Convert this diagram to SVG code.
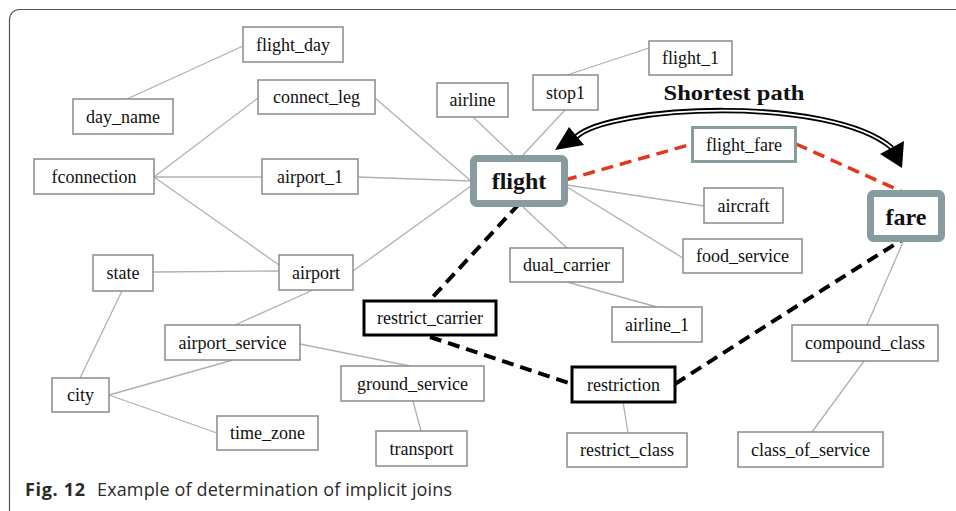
<svg xmlns="http://www.w3.org/2000/svg" width="956" height="511" viewBox="0 0 956 511">
<defs>
<style>
.n rect{fill:#fff;stroke:#8a8a8a;stroke-width:1.5}
.n text{font-family:"Liberation Serif","Times New Roman",serif;font-size:18px;fill:#111;text-anchor:middle}
.key rect{stroke:#879c9e;stroke-width:7}
.key text{font-weight:bold;font-size:24px}
.mid rect{stroke:#879c9e;stroke-width:3}
.blk rect{stroke:#000;stroke-width:3}
.e line{stroke:#b0b0b0;stroke-width:1.3}
.red{stroke:#e3361c;stroke-width:3.5;stroke-dasharray:12 7;fill:none}
.bd{stroke:#000;stroke-width:4;stroke-dasharray:12 7;fill:none}
</style>
</defs>
<rect x="0" y="0" width="956" height="511" fill="#fff"/>
<rect x="9.5" y="9.5" width="960" height="515" rx="10" fill="none" stroke="#555" stroke-width="1.2"/>

<g id="connectors">
<g class="e">
<line x1="243" y1="46" x2="127" y2="99"/>
<line x1="154" y1="177" x2="258" y2="98"/>
<line x1="154" y1="177" x2="262" y2="177"/>
<line x1="154" y1="177" x2="279" y2="265"/>
<line x1="375" y1="98" x2="471" y2="181"/>
<line x1="358" y1="177" x2="471" y2="181"/>
<line x1="353" y1="271" x2="471" y2="186"/>
<line x1="473" y1="117" x2="513" y2="155"/>
<line x1="565" y1="110" x2="523" y2="155"/>
<line x1="567" y1="75" x2="649" y2="48"/>
<line x1="567" y1="185" x2="704" y2="206"/>
<line x1="567" y1="187" x2="683" y2="258"/>
<line x1="523" y1="207" x2="567" y2="248"/>
<line x1="567" y1="282" x2="657" y2="307"/>
<line x1="153" y1="272" x2="279" y2="271"/>
<line x1="122" y1="291" x2="80" y2="378"/>
<line x1="313" y1="290" x2="235" y2="325"/>
<line x1="300" y1="344" x2="410" y2="366"/>
<line x1="109" y1="395" x2="233" y2="360"/>
<line x1="109" y1="395" x2="217" y2="433"/>
<line x1="413" y1="401" x2="421" y2="431"/>
<line x1="623" y1="402" x2="628" y2="433"/>
<line x1="903" y1="242" x2="867" y2="325"/>
<line x1="864" y1="361" x2="812" y2="432"/>
</g>
<path class="red" d="M565,180 L692,144"/>
<path class="red" d="M796,144 L905,193"/>
<path class="bd" d="M519,204 L430,300"/>
<path class="bd" d="M430,337 L572,384"/>
<path class="bd" d="M675,384 Q790,310 905,238"/>
<path d="M576,137 C610,105 830,95 892,148" fill="none" stroke="#000" stroke-width="5.5"/>
<path d="M576,137 C610,105 830,95 892,148" fill="none" stroke="#fff" stroke-width="1.8"/>
<polygon points="555,150 569,127 584,145" fill="#000"/>
<polygon points="902,168 880,154 904,141" fill="#000"/>
<text x="734" y="100" font-family="'Liberation Serif','Times New Roman',serif" font-weight="bold" font-size="22" text-anchor="middle" textLength="141" lengthAdjust="spacingAndGlyphs" fill="#111">Shortest path</text>
</g>

<g id="flight_day" class="n"><rect x="243" y="27" width="100" height="35"/><text x="293" y="51">flight_day</text></g>
<g id="day_name" class="n"><rect x="73" y="99" width="100" height="35"/><text x="123" y="123">day_name</text></g>
<g id="connect_leg" class="n"><rect x="258" y="80" width="117" height="34"/><text x="316.5" y="103">connect_leg</text></g>
<g id="fconnection" class="n"><rect x="34" y="159" width="120" height="35"/><text x="94" y="183">fconnection</text></g>
<g id="airport_1" class="n"><rect x="262" y="159" width="96" height="35"/><text x="310" y="183">airport_1</text></g>
<g id="airline" class="n"><rect x="437" y="83" width="71" height="34"/><text x="472.5" y="106">airline</text></g>
<g id="stop1" class="n"><rect x="533" y="75" width="65" height="35"/><text x="565.5" y="99">stop1</text></g>
<g id="flight_1" class="n"><rect x="649" y="41" width="83" height="34"/><text x="690.5" y="64">flight_1</text></g>
<g id="flight" class="n key"><rect x="473.5" y="158.5" width="91" height="45" rx="3"/><text x="519" y="189">flight</text></g>
<g id="flight_fare" class="n mid"><rect x="692.5" y="127.5" width="103" height="34"/><text x="744" y="151">flight_fare</text></g>
<g id="aircraft" class="n"><rect x="704" y="188" width="79" height="35"/><text x="743.5" y="212">aircraft</text></g>
<g id="fare" class="n key"><rect x="870.5" y="193.5" width="71" height="45" rx="3"/><text x="906" y="225">fare</text></g>
<g id="food_service" class="n"><rect x="683" y="239" width="119" height="34"/><text x="742.5" y="262">food_service</text></g>
<g id="dual_carrier" class="n"><rect x="510" y="248" width="113" height="34"/><text x="566.5" y="271">dual_carrier</text></g>
<g id="airline_1" class="n"><rect x="612" y="307" width="90" height="35"/><text x="657" y="331">airline_1</text></g>
<g id="compound_class" class="n"><rect x="792" y="325" width="146" height="36"/><text x="865" y="349">compound_class</text></g>
<g id="state" class="n"><rect x="93" y="255" width="60" height="36"/><text x="123" y="279">state</text></g>
<g id="airport" class="n"><rect x="279" y="255" width="74" height="35"/><text x="316" y="279">airport</text></g>
<g id="restrict_carrier" class="n blk"><rect x="364" y="301" width="132" height="34"/><text x="430" y="324">restrict_carrier</text></g>
<g id="airport_service" class="n"><rect x="165" y="325" width="135" height="35"/><text x="232.5" y="349">airport_service</text></g>
<g id="ground_service" class="n"><rect x="341" y="366" width="143" height="35"/><text x="412.5" y="390">ground_service</text></g>
<g id="restriction" class="n blk"><rect x="572" y="367" width="103" height="35"/><text x="623.5" y="391">restriction</text></g>
<g id="city" class="n"><rect x="52" y="378" width="57" height="34"/><text x="80.5" y="401">city</text></g>
<g id="time_zone" class="n"><rect x="217" y="416" width="101" height="34"/><text x="267.5" y="439">time_zone</text></g>
<g id="transport" class="n"><rect x="376" y="431" width="91" height="35"/><text x="421.5" y="455">transport</text></g>
<g id="restrict_class" class="n"><rect x="567" y="433" width="120" height="34"/><text x="627" y="456">restrict_class</text></g>
<g id="class_of_service" class="n"><rect x="738" y="432" width="145" height="35"/><text x="810.5" y="456">class_of_service</text></g>

<text y="496" font-family="'Open Sans','Noto Sans',sans-serif" font-size="18" fill="#2a2a2a"><tspan x="25" font-weight="bold" textLength="60">Fig. 12</tspan><tspan x="97" textLength="355">Example of determination of implicit joins</tspan></text>
</svg>
